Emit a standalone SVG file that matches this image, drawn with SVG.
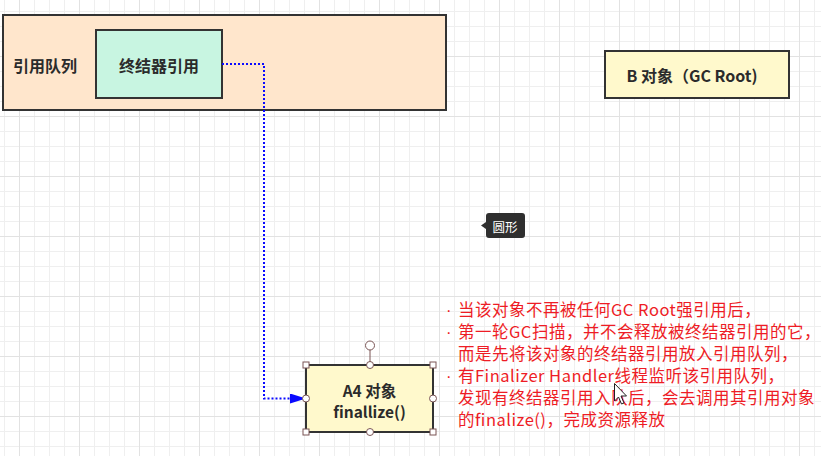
<svg xmlns="http://www.w3.org/2000/svg" width="821" height="456" viewBox="0 0 821 456">
  <defs>
    <pattern id="minor" x="4" y="11" width="15" height="15" patternUnits="userSpaceOnUse">
      <path d="M0 0.5H15M0.5 0V15" stroke="#efefef" stroke-width="1" fill="none"/>
    </pattern>
    <pattern id="major" x="19" y="56" width="60" height="60" patternUnits="userSpaceOnUse">
      <path d="M0 0.5H60M0.5 0V60" stroke="#e2e2e2" stroke-width="1" fill="none"/>
    </pattern>
    <marker id="arrow" viewBox="0 0 16 10" refX="16" refY="5" markerWidth="16" markerHeight="10" markerUnits="userSpaceOnUse" orient="auto">
      <path d="M0 0L16 5L0 10z" fill="#0a0aff"/>
    </marker>
    <style>
      .box { stroke: #333333; stroke-width: 2; }
      .lbl { font-family: "Noto Sans CJK SC", "Liberation Sans", sans-serif; font-weight: bold; font-size: 16px; fill: #2b2b2b; text-anchor: middle; dominant-baseline: central; }
      .lbl2 { font-size: 15.5px; }
      .note { font-family: "Noto Sans CJK SC", "Liberation Sans", sans-serif; font-size: 16.5px; letter-spacing: 0.5px; fill: #ee1c25; }
      .dot { font-family: "Liberation Sans", sans-serif; font-size: 16.5px; fill: #ee1c25; }
      .hsq { fill: #ffffff; stroke: #7a5555; stroke-width: 1; }
      .hci { fill: #ffffff; stroke: #7a5555; stroke-width: 1; }
    </style>
  </defs>
  <rect width="821" height="456" fill="#ffffff"/>
  <rect width="821" height="456" fill="url(#minor)"/>
  <rect width="821" height="456" fill="url(#major)"/>

  <g id="queue">
    <rect class="box" x="3" y="15" width="443" height="95" fill="#ffe6cc"/>
    <text class="lbl" x="45" y="65">引用队列</text>
  </g>
  <g id="finalRef">
    <rect class="box" x="96" y="30" width="126" height="68" fill="#c8f5e1"/>
    <text class="lbl" x="159" y="65">终结器引用</text>
  </g>
  <g id="bObject">
    <rect class="box" x="605" y="51" width="184" height="47" fill="#fff9cc"/>
    <text class="lbl" x="692" y="75">B 对象（GC Root)</text>
  </g>
  <g id="a4Object">
    <rect class="box" x="306" y="365" width="127" height="67" fill="#fff9cc"/>
    <text class="lbl lbl2" x="369.5" y="390">A4 对象</text>
    <text class="lbl lbl2" x="369.5" y="411">finallize()</text>
  </g>

  <g id="connectors">
    <path d="M222 64H264V398.5H306" fill="none" stroke="#0a0aff" stroke-width="2" stroke-dasharray="2 2" marker-end="url(#arrow)"/>
  </g>

  <g id="selection">
    <line x1="370" y1="350" x2="370" y2="365" stroke="#7a5555" stroke-width="1"/>
    <circle class="hci" cx="370" cy="345.5" r="4.5"/>
    <rect class="hsq" x="303" y="362" width="6" height="6"/>
    <rect class="hsq" x="430" y="362" width="6" height="6"/>
    <rect class="hsq" x="303" y="429" width="6" height="6"/>
    <rect class="hsq" x="430" y="429" width="6" height="6"/>
    <circle class="hci" cx="370" cy="365" r="3.5"/>
    <circle class="hci" cx="370" cy="432" r="3.5"/>
    <circle class="hci" cx="306" cy="398.5" r="3.5"/>
    <circle class="hci" cx="433" cy="398.5" r="3.5"/>
  </g>

  <g id="notes">
    <text class="dot" x="446" y="316">·</text>
    <text class="note" x="458" y="316">当该对象不再被任何GC Root强引用后，</text>
    <text class="dot" x="446" y="338">·</text>
    <text class="note" x="458" y="338">第一轮GC扫描，并不会释放被终结器引用的它，</text>
    <text class="note" x="458" y="360">而是先将该对象的终结器引用放入引用队列，</text>
    <text class="dot" x="446" y="382">·</text>
    <text class="note" x="458" y="382">有Finalizer Handler线程监听该引用队列，</text>
    <text class="note" x="458" y="404">发现有终结器引用入队后，会去调用其引用对象</text>
    <text class="note" x="458" y="426">的finalize()，完成资源释放</text>
  </g>

  <g id="tooltip">
    <path d="M489 213H522a3 3 0 0 1 3 3V235a3 3 0 0 1-3 3H489a3 3 0 0 1-3-3V229L481 225.5L486 222V216a3 3 0 0 1 3-3z" fill="#2f2f2f"/>
    <text x="505" y="226" font-family="Noto Sans CJK SC, sans-serif" font-size="12.5" fill="#ffffff" text-anchor="middle" dominant-baseline="central">圆形</text>
  </g>

  <g id="cursor">
    <path d="M614.5 383.5V401L618.5 397L621.5 404L624 403L621 396H626.5Z" fill="#ffffff" stroke="#222222" stroke-width="1" stroke-linejoin="round"/>
  </g>
</svg>
